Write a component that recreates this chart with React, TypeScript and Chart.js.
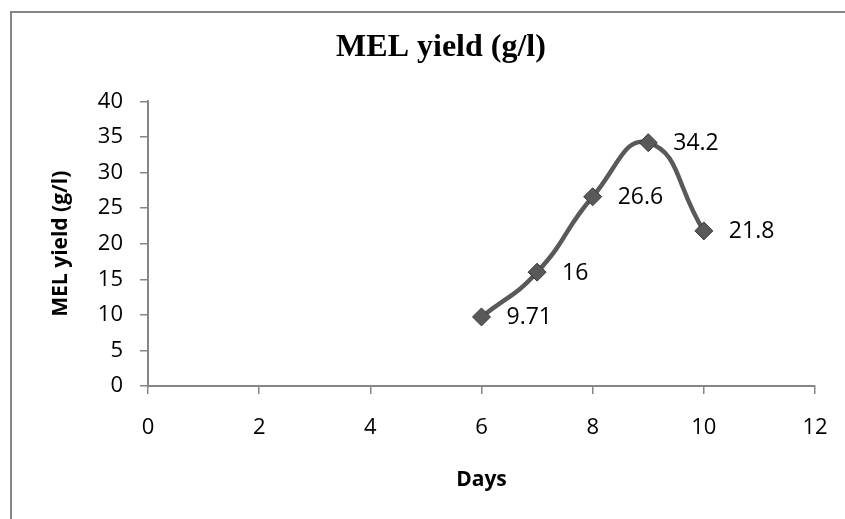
import React, { useEffect, useRef } from "react";
import { Chart, registerables } from "chart.js";

Chart.register(...registerables);

const days = [6, 7, 8, 9, 10];
const yields = [9.71, 16, 26.6, 34.2, 21.8];
const chartTitle = "MEL yield (g/l)";
const xTitle = "Days";
const yTitle = "MEL yield (g/l)";

const AXIS = "#868686";
const LINE = "#595959";

const dataLabelPlugin = {
  id: "dataLabels",
  afterDatasetsDraw(chart: any) {
    const ctx = chart.ctx;
    const meta = chart.getDatasetMeta(0);
    ctx.save();
    ctx.font = '23px "Open Sans"';
    ctx.fillStyle = "#000";
    ctx.textAlign = "left";
    ctx.textBaseline = "middle";
    meta.data.forEach((pt: any, i: number) => {
      ctx.fillText(String(yields[i]), pt.x + 25, pt.y + 1);
    });
    ctx.restore();
  },
};

export default function App() {
  const ref = useRef<HTMLCanvasElement>(null);
  useEffect(() => {
    if (!ref.current) return;
    const chart = new Chart(ref.current, {
      type: "line",
      data: {
        datasets: [
          {
            data: days.map((d, i) => ({ x: d, y: yields[i] })),
            borderColor: LINE,
            borderWidth: 4.5,
            backgroundColor: LINE,
            pointStyle: "rectRot",
            pointRadius: 9,
            pointBorderColor: "#3a3a3a",
            pointBorderWidth: 1,
            pointBackgroundColor: LINE,
            tension: 0.5,
            fill: false,
          },
        ],
      },
      options: {
        animation: false,
        responsive: false,
        layout: { padding: { left: 0, right: 0, top: 0, bottom: 60 } },
        plugins: {
          legend: { display: false },
          tooltip: { enabled: false },
          title: {
            display: true,
            text: chartTitle,
            color: "#000",
            font: { family: '"Liberation Serif", "Times New Roman", serif', size: 32, weight: "bold" },
            padding: { top: 16, bottom: 34 },
          },
        },
        scales: {
          x: {
            type: "linear",
            position: "bottom",
            min: 0,
            max: 12,
            ticks: {
              stepSize: 2,
              color: "#000",
              padding: 21,
              font: { family: '"Open Sans"', size: 22 },
            },
            grid: {
              display: true,
              drawOnChartArea: false,
              drawTicks: true,
              tickLength: 8,
              color: AXIS,
              lineWidth: 1.5,
            },
            border: { display: true, color: AXIS, width: 2 },
            title: {
              display: true,
              text: xTitle,
              color: "#000",
              padding: 0,
              font: { family: '"Open Sans"', size: 21, weight: "bold" },
            },
            afterFit: (s: any) => {
              s.height = 107;
            },
          },
          y: {
            position: "left",
            min: 0,
            max: 40,
            ticks: {
              stepSize: 5,
              color: "#000",
              padding: 17,
              font: { family: '"Open Sans"', size: 22 },
            },
            grid: {
              display: true,
              drawOnChartArea: false,
              drawTicks: true,
              tickLength: 8,
              color: AXIS,
              lineWidth: 1.5,
            },
            border: { display: true, color: AXIS, width: 2 },
            title: {
              display: true,
              text: yTitle,
              color: "#000",
              padding: { top: 36, bottom: 0 },
              font: { family: '"Open Sans"', size: 21, weight: "bold" },
            },
            afterFit: (s: any) => {
              s.width = 136;
            },
          },
          y2: {
            position: "right",
            display: true,
            min: 0,
            max: 40,
            ticks: { display: false },
            grid: { display: false, drawTicks: false },
            border: { display: false },
            afterFit: (s: any) => {
              s.width = 55;
            },
          },
        },
      },
      plugins: [dataLabelPlugin],
    } as any);
    return () => chart.destroy();
  }, []);

  return (
    <div
      style={{
        position: "fixed",
        left: 0,
        top: 0,
        width: 845,
        height: 519,
        overflow: "hidden",
        background: "#fff",
      }}
    >
      <div
        style={{
          position: "absolute",
          left: 10,
          top: 11,
          width: 858,
          height: 540,
          border: `2px solid ${AXIS}`,
        }}
      >
        <canvas ref={ref} width={858} height={540} style={{ display: "block", width: 858, height: 540 }} />
      </div>
    </div>
  );
}
